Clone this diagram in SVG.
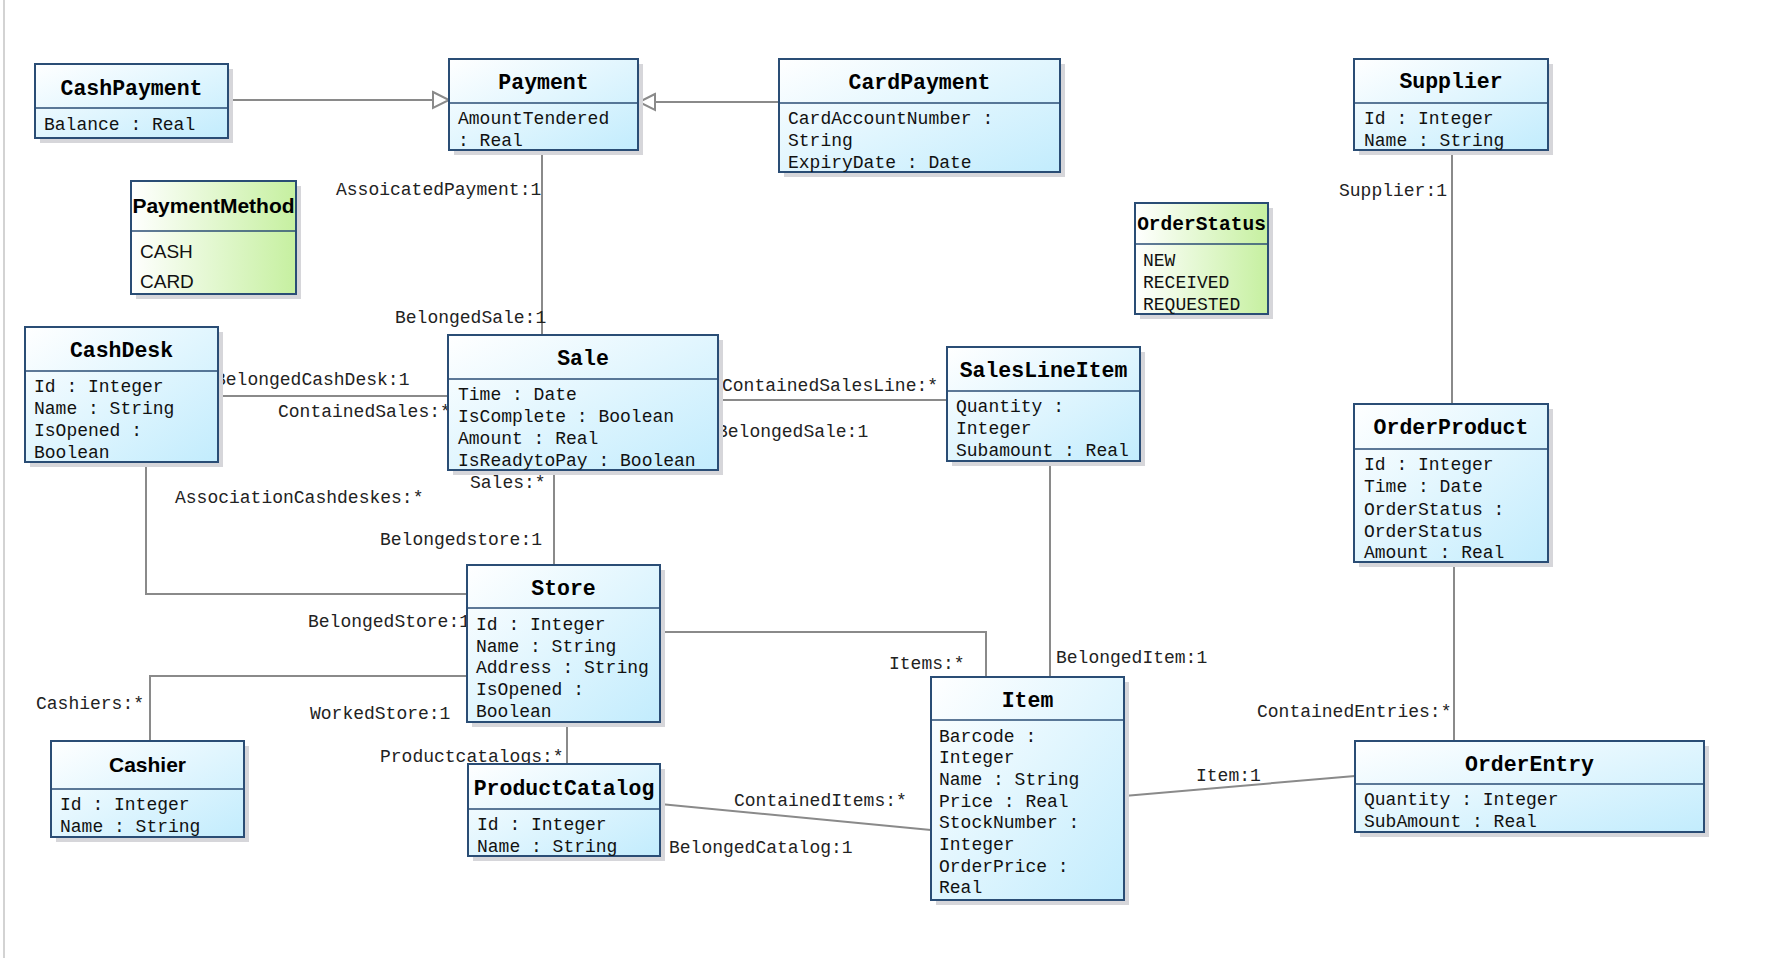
<svg xmlns="http://www.w3.org/2000/svg" width="1792" height="958" viewBox="0 0 1792 958">
<defs>
<linearGradient id="cls" x1="0" y1="0" x2="1" y2="1">
<stop offset="0" stop-color="#ffffff"/>
<stop offset="1" stop-color="#c2ecfd"/>
</linearGradient>
<linearGradient id="enm" x1="0" y1="0" x2="1" y2="0">
<stop offset="0" stop-color="#ffffff"/>
<stop offset="1" stop-color="#c6f0a0"/>
</linearGradient>
</defs>
<style>
.sh{fill:#d6d6da}
.box{fill:url(#cls);stroke:#2a4d75;stroke-width:2}
.ebox{fill:url(#enm);stroke:#2a4d75;stroke-width:2}
.div{stroke:#2a4d75;stroke-width:1.5}
.t{font-family:"Liberation Mono","DejaVu Sans Mono",monospace;font-size:21.5px;font-weight:bold;fill:#000;text-anchor:middle}
.ts{font-family:"Liberation Sans",Arial,sans-serif;font-size:21px;font-weight:bold;fill:#000;text-anchor:middle}
.a{font-family:"Liberation Mono","DejaVu Sans Mono",monospace;font-size:18px;fill:#111}
.as{font-family:"Liberation Sans",Arial,sans-serif;font-size:19px;fill:#111}
.l{font-family:"Liberation Mono","DejaVu Sans Mono",monospace;font-size:18px;fill:#222}
.c{fill:none;stroke:#8a8a8a;stroke-width:2}
.h{fill:#fff;stroke:#8a8a8a;stroke-width:2}
</style>
<rect x="0" y="0" width="1792" height="958" fill="#fff"/>
<line x1="4" y1="0" x2="4" y2="958" stroke="#c4c4c4" stroke-width="1.5"/>

<g id="connectors">
<line class="c" x1="228" y1="100" x2="433" y2="100"/>
<polygon class="h" points="433,92 449,100 433,108"/>
<line class="c" x1="779" y1="102" x2="655" y2="102"/>
<polygon class="h" points="655,94 639,102 655,110"/>
<line class="c" x1="542" y1="150" x2="542" y2="335"/>
<line class="c" x1="218" y1="396" x2="448" y2="396"/>
<line class="c" x1="718" y1="400" x2="947" y2="400"/>
<line class="c" x1="554" y1="470" x2="554" y2="565"/>
<polyline class="c" points="146,462 146,594 467,594"/>
<polyline class="c" points="660,632 986,632 986,677"/>
<line class="c" x1="1050" y1="461" x2="1050" y2="677"/>
<polyline class="c" points="467,676 150,676 150,741"/>
<line class="c" x1="567" y1="722" x2="567" y2="764"/>
<line class="c" x1="660" y1="804" x2="931" y2="830"/>
<line class="c" x1="1124" y1="796" x2="1355" y2="776"/>
<line class="c" x1="1452" y1="150" x2="1452" y2="404"/>
<line class="c" x1="1454" y1="562" x2="1454" y2="741"/>
<text class="l" x="336" y="195">AssoicatedPayment:1</text>
<text class="l" x="395" y="323">BelongedSale:1</text>
<text class="l" x="215" y="385">BelongedCashDesk:1</text>
<text class="l" x="278" y="417">ContainedSales:*</text>
<text class="l" x="722" y="391">ContainedSalesLine:*</text>
<text class="l" x="717" y="437">BelongedSale:1</text>
<text class="l" x="470" y="488">Sales:*</text>
<text class="l" x="175" y="503">AssociationCashdeskes:*</text>
<text class="l" x="380" y="545">Belongedstore:1</text>
<text class="l" x="308" y="627">BelongedStore:1</text>
<text class="l" x="36" y="709">Cashiers:*</text>
<text class="l" x="310" y="719">WorkedStore:1</text>
<text class="l" x="380" y="762">Productcatalogs:*</text>
<text class="l" x="734" y="806">ContainedItems:*</text>
<text class="l" x="669" y="853">BelongedCatalog:1</text>
<text class="l" x="889" y="669">Items:*</text>
<text class="l" x="1056" y="663">BelongedItem:1</text>
<text class="l" x="1196" y="781">Item:1</text>
<text class="l" x="1257" y="717">ContainedEntries:*</text>
<text class="l" x="1339" y="196">Supplier:1</text>
</g>

<g id="CashPayment">
<rect class="sh" x="40" y="69" width="193" height="74"/>
<rect class="box" x="35" y="64" width="193" height="74"/>
<line class="div" x1="35" y1="108" x2="228" y2="108"/>
<text class="t" x="131.5" y="95">CashPayment</text>
<text class="a" x="44" y="130">Balance : Real</text>
</g>

<g id="Payment">
<rect class="sh" x="454" y="64" width="189" height="91"/>
<rect class="box" x="449" y="59" width="189" height="91"/>
<line class="div" x1="449" y1="103" x2="638" y2="103"/>
<text class="t" x="543.5" y="89">Payment</text>
<text class="a" x="458" y="124">AmountTendered</text>
<text class="a" x="458" y="146">: Real</text>
</g>

<g id="CardPayment">
<rect class="sh" x="784" y="64" width="281" height="113"/>
<rect class="box" x="779" y="59" width="281" height="113"/>
<line class="div" x1="779" y1="103" x2="1060" y2="103"/>
<text class="t" x="919.5" y="89">CardPayment</text>
<text class="a" x="788" y="124">CardAccountNumber :</text>
<text class="a" x="788" y="146">String</text>
<text class="a" x="788" y="168">ExpiryDate : Date</text>
</g>

<g id="Supplier">
<rect class="sh" x="1359" y="64" width="194" height="91"/>
<rect class="box" x="1354" y="59" width="194" height="91"/>
<line class="div" x1="1354" y1="103" x2="1548" y2="103"/>
<text class="t" x="1451" y="88">Supplier</text>
<text class="a" x="1364" y="124">Id : Integer</text>
<text class="a" x="1364" y="146">Name : String</text>
</g>

<g id="PaymentMethod">
<rect class="sh" x="136" y="186" width="165" height="113"/>
<rect class="ebox" x="131" y="181" width="165" height="113"/>
<line class="div" x1="131" y1="231" x2="296" y2="231"/>
<text class="ts" x="213.5" y="213">PaymentMethod</text>
<text class="as" x="140" y="258">CASH</text>
<text class="as" x="140" y="288">CARD</text>
</g>

<g id="OrderStatus">
<rect class="sh" x="1140" y="208" width="133" height="111"/>
<rect class="ebox" x="1135" y="203" width="133" height="111"/>
<line class="div" x1="1135" y1="244" x2="1268" y2="244"/>
<text class="t" x="1201.5" y="230" style="font-size:19.5px">OrderStatus</text>
<text class="a" x="1143" y="266">NEW</text>
<text class="a" x="1143" y="288">RECEIVED</text>
<text class="a" x="1143" y="310">REQUESTED</text>
</g>

<g id="CashDesk">
<rect class="sh" x="30" y="332" width="193" height="135"/>
<rect class="box" x="25" y="327" width="193" height="135"/>
<line class="div" x1="25" y1="371" x2="218" y2="371"/>
<text class="t" x="121.5" y="357">CashDesk</text>
<text class="a" x="34" y="392">Id : Integer</text>
<text class="a" x="34" y="414">Name : String</text>
<text class="a" x="34" y="436">IsOpened :</text>
<text class="a" x="34" y="458">Boolean</text>
</g>

<g id="Sale">
<rect class="sh" x="453" y="340" width="270" height="135"/>
<rect class="box" x="448" y="335" width="270" height="135"/>
<line class="div" x1="448" y1="379" x2="718" y2="379"/>
<text class="t" x="583" y="365">Sale</text>
<text class="a" x="458" y="400">Time : Date</text>
<text class="a" x="458" y="422">IsComplete : Boolean</text>
<text class="a" x="458" y="444">Amount : Real</text>
<text class="a" x="458" y="466">IsReadytoPay : Boolean</text>
</g>

<g id="SalesLineItem">
<rect class="sh" x="952" y="352" width="193" height="114"/>
<rect class="box" x="947" y="347" width="193" height="114"/>
<line class="div" x1="947" y1="391" x2="1140" y2="391"/>
<text class="t" x="1043.5" y="377">SalesLineItem</text>
<text class="a" x="956" y="412">Quantity :</text>
<text class="a" x="956" y="434">Integer</text>
<text class="a" x="956" y="456">Subamount : Real</text>
</g>

<g id="OrderProduct">
<rect class="sh" x="1359" y="409" width="194" height="158"/>
<rect class="box" x="1354" y="404" width="194" height="158"/>
<line class="div" x1="1354" y1="449" x2="1548" y2="449"/>
<text class="t" x="1451" y="434">OrderProduct</text>
<text class="a" x="1364" y="470">Id : Integer</text>
<text class="a" x="1364" y="492">Time : Date</text>
<text class="a" x="1364" y="515">OrderStatus :</text>
<text class="a" x="1364" y="537">OrderStatus</text>
<text class="a" x="1364" y="558">Amount : Real</text>
</g>

<g id="Store">
<rect class="sh" x="472" y="570" width="193" height="157"/>
<rect class="box" x="467" y="565" width="193" height="157"/>
<line class="div" x1="467" y1="608" x2="660" y2="608"/>
<text class="t" x="563.5" y="595">Store</text>
<text class="a" x="476" y="630">Id : Integer</text>
<text class="a" x="476" y="652">Name : String</text>
<text class="a" x="476" y="673">Address : String</text>
<text class="a" x="476" y="695">IsOpened :</text>
<text class="a" x="476" y="717">Boolean</text>
</g>

<g id="Cashier">
<rect class="sh" x="56" y="746" width="193" height="96"/>
<rect class="box" x="51" y="741" width="193" height="96"/>
<line class="div" x1="51" y1="789" x2="244" y2="789"/>
<text class="ts" x="147.5" y="772">Cashier</text>
<text class="a" x="60" y="810">Id : Integer</text>
<text class="a" x="60" y="832">Name : String</text>
</g>

<g id="ProductCatalog">
<rect class="sh" x="473" y="769" width="192" height="92"/>
<rect class="box" x="468" y="764" width="192" height="92"/>
<line class="div" x1="468" y1="809" x2="660" y2="809"/>
<text class="t" x="564" y="795">ProductCatalog</text>
<text class="a" x="477" y="830">Id : Integer</text>
<text class="a" x="477" y="852">Name : String</text>
</g>

<g id="Item">
<rect class="sh" x="936" y="682" width="193" height="223"/>
<rect class="box" x="931" y="677" width="193" height="223"/>
<line class="div" x1="931" y1="720" x2="1124" y2="720"/>
<text class="t" x="1027.5" y="707">Item</text>
<text class="a" x="939" y="742">Barcode :</text>
<text class="a" x="939" y="763">Integer</text>
<text class="a" x="939" y="785">Name : String</text>
<text class="a" x="939" y="807">Price : Real</text>
<text class="a" x="939" y="828">StockNumber :</text>
<text class="a" x="939" y="850">Integer</text>
<text class="a" x="939" y="872">OrderPrice :</text>
<text class="a" x="939" y="893">Real</text>
</g>

<g id="OrderEntry">
<rect class="sh" x="1360" y="746" width="349" height="91"/>
<rect class="box" x="1355" y="741" width="349" height="91"/>
<line class="div" x1="1355" y1="784" x2="1704" y2="784"/>
<text class="t" x="1529.5" y="771">OrderEntry</text>
<text class="a" x="1364" y="805">Quantity : Integer</text>
<text class="a" x="1364" y="827">SubAmount : Real</text>
</g>
</svg>
